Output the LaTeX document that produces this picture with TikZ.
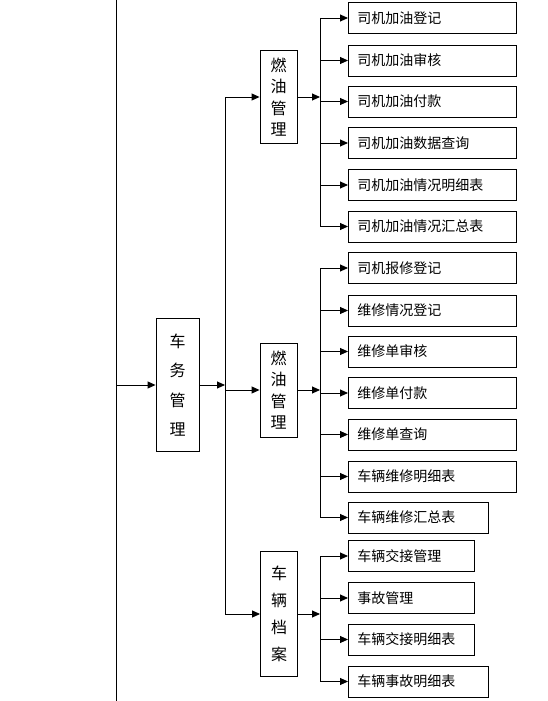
\documentclass[tikz,border=0pt]{standalone}
\usepackage{fontspec}
\setmainfont{Noto Sans CJK SC}
\usetikzlibrary{arrows.meta}

\begin{document}
\begin{tikzpicture}[x=1pt, y=-1pt, line width=0.9pt,
                    vbox/.style = {
                        draw=black, align=center, inner sep=0pt, minimum width=37pt
                    },
                    leaf/.style = {
                        draw=black, anchor=west, minimum height=31pt, inner xsep=9pt,
                        align=left, text width=#1, font=\fontsize{14}{16}\selectfont
                    },
                    leaf/.default = 150pt,
                    arr/.style = {-{Triangle[length=8pt, width=7pt]}}
                ]
                    \useasboundingbox (0,0) rectangle (548,701);

                    % Linke Leitung und Hauptknoten
                    \coordinate (root) at (116,0);
                    \draw (root) -- (116,701);
                    \node[vbox, minimum width=43pt, minimum height=133pt, font=\fontsize{16}{29.5}\selectfont] (main) at (177.5,385) {车\\务\\管\\理};
                    \draw[arr] (root |- main.west) -- (main.west);

                    % Zweite Ebene
                    \node[vbox, minimum height=93pt, font=\fontsize{16}{21.5}\selectfont] (fuelA) at (278.5,97) {燃\\油\\管\\理};
                    \node[vbox, minimum height=94pt, font=\fontsize{16}{21.5}\selectfont] (fuelB) at (278.5,390) {燃\\油\\管\\理};
                    \node[vbox, minimum height=125pt, font=\fontsize{16}{27}\selectfont] (archive) at (279,614) {车\\辆\\档\\案};

                    \coordinate (trunk) at (225,385);
                    \draw[arr] (main.east) -- (main.east -| trunk);
                    \draw (trunk |- fuelA.west) -- (trunk |- archive.west);
                    \foreach \n in {fuelA, fuelB, archive}
                        \draw[arr] (trunk |- \n.west) -- (\n.west);

                    % Blaetter: Gruppe 1
                    \node[leaf] (fA1) at (348,18) {司机加油登记};
                    \node[leaf] (fA2) at (348,60.5) {司机加油审核};
                    \node[leaf] (fA3) at (348,101.5) {司机加油付款};
                    \node[leaf] (fA4) at (348,143) {司机加油数据查询};
                    \node[leaf] (fA5) at (348,185) {司机加油情况明细表};
                    \node[leaf] (fA6) at (348,226.5) {司机加油情况汇总表};

                    % Blaetter: Gruppe 2
                    \node[leaf] (fB1) at (348,268) {司机报修登记};
                    \node[leaf] (fB2) at (348,310.5) {维修情况登记};
                    \node[leaf] (fB3) at (348,351.5) {维修单审核};
                    \node[leaf] (fB4) at (348,393) {维修单付款};
                    \node[leaf] (fB5) at (348,434.5) {维修单查询};
                    \node[leaf] (fB6) at (348,476.5) {车辆维修明细表};
                    \node[leaf=122pt] (fB7) at (348,517.5) {车辆维修汇总表};

                    % Blaetter: Gruppe 3
                    \node[leaf=108pt] (ar1) at (348,556) {车辆交接管理};
                    \node[leaf=108pt] (ar2) at (348,598) {事故管理};
                    \node[leaf=108pt] (ar3) at (348,639.5) {车辆交接明细表};
                    \node[leaf=122pt] (ar4) at (348,681.5) {车辆事故明细表};

                    % Sammelleitungen
                    \coordinate (busA) at (320,0);
                    \draw[arr] (fuelA.east) -- (fuelA.east -| busA);
                    \draw (busA |- fA1.west) -- (busA |- fA6.west);
                    \foreach \n in {fA1, fA2, fA3, fA4, fA5, fA6}
                        \draw[arr] (busA |- \n.west) -- (\n.west);

                    \draw[arr] (fuelB.east) -- (fuelB.east -| busA);
                    \draw (busA |- fB1.west) -- (busA |- fB7.west);
                    \foreach \n in {fB1, fB2, fB3, fB4, fB5, fB6, fB7}
                        \draw[arr] (busA |- \n.west) -- (\n.west);

                    \draw[arr] (archive.east) -- (archive.east -| busA);
                    \draw (busA |- ar1.west) -- (busA |- ar4.west);
                    \foreach \n in {ar1, ar2, ar3, ar4}
                        \draw[arr] (busA |- \n.west) -- (\n.west);
                \end{tikzpicture}
\end{document}
